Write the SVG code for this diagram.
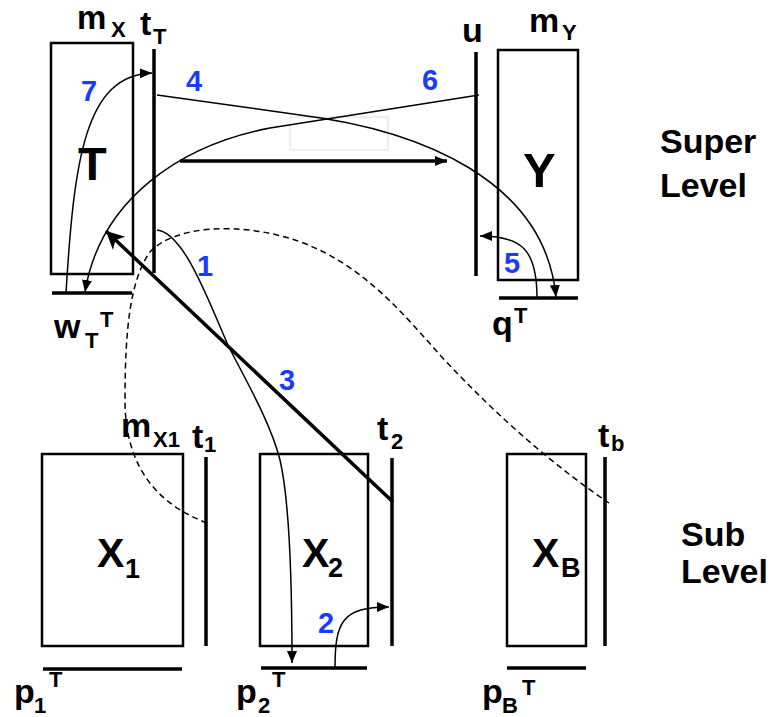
<svg xmlns="http://www.w3.org/2000/svg" width="775" height="717" viewBox="0 0 775 717">
<style>
text{font-family:"Liberation Sans",Arial,Helvetica,sans-serif;font-weight:bold;fill:#000}
.lb{font-size:34px}
.sb{font-size:22px}
.big{font-size:47px}
.bx{font-size:41px}
.bs{font-size:27px}
.num{font-size:29px;fill:#1A3CF5}
.lvl{font-size:34px}
.box{fill:#fff;stroke:#000;stroke-width:2.5}
.bar{stroke:#000;stroke-width:3.5;fill:none}
.thin{stroke:#000;stroke-width:1.5;fill:none}
.thick{stroke:#000;stroke-width:3.5;fill:none}
.dash{stroke:#000;stroke-width:1.5;fill:none;stroke-dasharray:6 4}
</style>
<defs>
<marker id="ah" markerUnits="userSpaceOnUse" markerWidth="14" markerHeight="12" refX="12" refY="5" orient="auto">
<path d="M0,0 L12,5 L0,10 Z" fill="#000"/>
</marker>
<marker id="ahb" markerUnits="userSpaceOnUse" markerWidth="22" markerHeight="20" refX="18" refY="9" orient="auto">
<path d="M0,0 L18,9 L0,18 L5,9 Z" fill="#000"/>
</marker>
</defs>

<g id="node-T">
<rect class="box" x="51" y="43" width="82" height="231"/>
<text class="big" x="78" y="180">T</text>
<text class="lb" style="font-size:33px" x="77" y="29">m</text><text class="sb" x="111" y="37">X</text>
</g>
<g id="node-tT">
<line class="bar" x1="154" y1="49" x2="154" y2="273"/>
<text class="lb" x="140" y="35">t</text><text class="sb" x="153" y="44">T</text>
</g>
<g id="node-wT">
<line class="bar" x1="52" y1="293" x2="132" y2="293"/>
<text class="lb" x="54" y="338">w</text><text class="sb" x="85" y="348">T</text><text class="sb" x="100" y="327">T</text>
</g>
<g id="node-u">
<line class="bar" x1="476" y1="52" x2="476" y2="276"/>
<text class="lb" x="462" y="42">u</text>
</g>
<g id="node-Y">
<rect class="box" x="498" y="50" width="80" height="230"/>
<text class="big" style="font-size:49px" x="523" y="187">Y</text>
<text class="lb" x="529" y="32">m</text><text class="sb" x="562" y="40">Y</text>
</g>
<g id="node-qT">
<line class="bar" x1="499" y1="298" x2="578" y2="298"/>
<text class="lb" x="492" y="335">q</text><text class="sb" x="514" y="323">T</text>
</g>
<g id="label-super">
<text class="lvl" x="660" y="153">Super</text>
<text class="lvl" x="660" y="197">Level</text>
</g>

<g id="node-X1">
<rect class="box" x="42" y="454" width="141" height="192"/>
<text class="bx" x="97" y="567">X</text><text class="bs" x="125" y="578">1</text>
<text class="lb" x="121" y="437">m</text><text class="sb" x="153" y="447">X1</text>
</g>
<g id="node-t1">
<line class="bar" x1="206" y1="457" x2="206" y2="646"/>
<text class="lb" x="192" y="448">t</text><text class="sb" x="204" y="452">1</text>
</g>
<g id="node-p1">
<line class="bar" x1="43" y1="669" x2="182" y2="669"/>
<text class="lb" x="14" y="703">p</text><text class="sb" x="34" y="713">1</text><text class="sb" x="49" y="687">T</text>
</g>
<g id="node-X2">
<rect class="box" x="260" y="454" width="108" height="192"/>
<text class="bx" x="302" y="567">X</text><text class="bs" x="328" y="577">2</text>
</g>
<g id="node-t2">
<line class="bar" x1="392" y1="458" x2="392" y2="646"/>
<text class="lb" x="377" y="440">t</text><text class="sb" x="391" y="449">2</text>
</g>
<g id="node-p2">
<line class="bar" x1="261" y1="668" x2="367" y2="668"/>
<text class="lb" x="236" y="703">p</text><text class="sb" x="258" y="713">2</text><text class="sb" x="272" y="687">T</text>
</g>
<g id="node-XB">
<rect class="box" x="507" y="454" width="79" height="192"/>
<text class="bx" x="532" y="567">X</text><text class="bs" x="561" y="577">B</text>
</g>
<g id="node-tb">
<line class="bar" x1="605" y1="457" x2="605" y2="646"/>
<text class="lb" x="598" y="447">t</text><text class="sb" x="611" y="451">b</text>
</g>
<g id="node-pB">
<line class="bar" x1="507" y1="668" x2="586" y2="668"/>
<text class="lb" x="482" y="703">p</text><text class="sb" x="502" y="713">B</text><text class="sb" x="522" y="695">T</text>
</g>
<g id="label-sub">
<text class="lvl" x="681" y="546">Sub</text>
<text class="lvl" x="681" y="583">Level</text>
</g>

<g id="connectors">
<rect x="290" y="117" width="98" height="33" fill="none" stroke="#ddd" stroke-width="1"/>
<path class="dash" d="M207,523 C160,505 125,470 125,400 C125,330 130,280 150,252 C175,225 240,222 295,240 C360,262 400,310 440,355 C500,420 560,470 609,503"/>
<path class="thin" marker-end="url(#ah)" d="M66,293 C74,160 85,75 152,73"/>
<path class="thin" marker-end="url(#ah)" d="M479,95 L270,128 C180,145 100,200 85,292"/>
<path class="thin" marker-end="url(#ah)" d="M157,95 L300,115 C420,130 545,180 556,297"/>
<path class="thin" marker-end="url(#ah)" d="M537,298 C537,250 522,236 480,236"/>
<path class="thick" marker-end="url(#ah)" d="M180,161 L447,161"/>
<path class="thin" marker-end="url(#ah)" d="M157,230 C185,233 210,305 228,345 C240,370 270,420 280,460 C287,490 292,560 292,663"/>
<path class="thick" marker-end="url(#ahb)" d="M393,502 L106,231"/>
<path class="thin" marker-end="url(#ah)" d="M335,668 C335,622 342,607 389,607"/>
<text class="num" x="81" y="101">7</text>
<text class="num" x="186" y="91">4</text>
<text class="num" x="422" y="90">6</text>
<text class="num" x="197" y="276">1</text>
<text class="num" x="504" y="273">5</text>
<text class="num" x="279" y="390">3</text>
<text class="num" x="318" y="633">2</text>
</g>
</svg>
